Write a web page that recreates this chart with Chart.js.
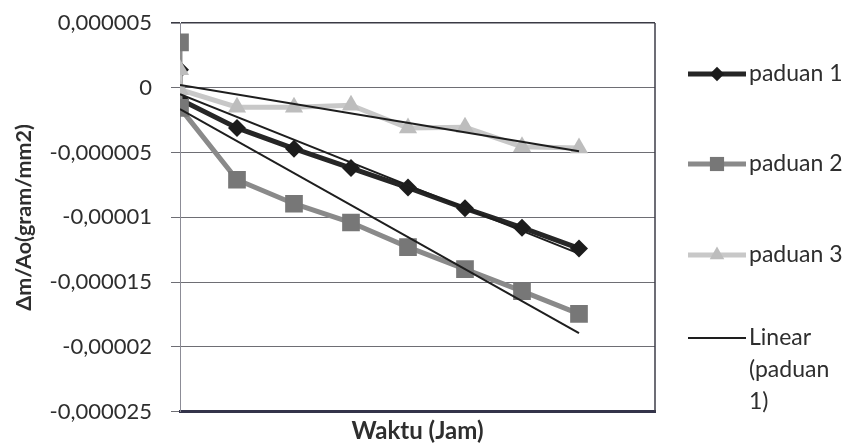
<!DOCTYPE html>
<html>
<head>
<meta charset="utf-8">
<script src="https://cdn.jsdelivr.net/npm/chart.js@4.4.1/dist/chart.umd.min.js"></script>
<style>
  html, body { margin: 0; padding: 0; background: #fff; }
  canvas { display: block; }
</style>
</head>
<body>
<canvas id="chart" width="851" height="443"></canvas>
<script>
// Sampling times (hours); the first two readings share t = 0
const hours = [0, 0, 24, 48, 72, 96, 120, 144, 168];

// Mass change per initial area (gram/mm2)
const paduan1 = [1.4e-6, -0.9e-6, -3.1e-6, -4.7e-6, -6.2e-6, -7.7e-6, -9.3e-6, -10.8e-6, -12.4e-6];
const paduan2 = [3.5e-6, -1.55e-6, -7.1e-6, -8.95e-6, -10.4e-6, -12.3e-6, -14.0e-6, -15.7e-6, -17.45e-6];
const paduan3 = [1.4e-6, -0.15e-6, -1.5e-6, -1.5e-6, -1.35e-6, -3.1e-6, -3.05e-6, -4.55e-6, -4.65e-6];

const seriesNames = ['paduan 1', 'paduan 2', 'paduan 3'];
const trendNames = ['Linear (paduan 1)', 'Linear (paduan 2)', 'Linear (paduan 3)'];

const yTickValues = [-2.5e-5, -2e-5, -1.5e-5, -1e-5, -5e-6, 0, 5e-6];
const yTickLabels = ['-0,000025', '-0,00002', '-0,000015', '-0,00001', '-0,000005', '0', '0,000005'];

const xTitle = 'Waktu (Jam)';
const yTitle = 'Δm/Ao(gram/mm2)';

const FONT = 'Lato';
const TEXT = '#2e2e2e';

function toPoints(ys) {
  return hours.map((x, i) => ({ x: x, y: ys[i] }));
}

// Least-squares straight line over the series, spanning its time range
function linearTrend(ys) {
  const n = ys.length;
  let sx = 0, sy = 0, sxx = 0, sxy = 0;
  for (let i = 0; i < n; i++) {
    sx += hours[i]; sy += ys[i];
    sxx += hours[i] * hours[i]; sxy += hours[i] * ys[i];
  }
  const slope = (n * sxy - sx * sy) / (n * sxx - sx * sx);
  const icpt = (sy - slope * sx) / n;
  const x0 = Math.min.apply(null, hours), x1 = Math.max.apply(null, hours);
  return [{ x: x0, y: icpt + slope * x0 }, { x: x1, y: icpt + slope * x1 }];
}

const seriesStyle = [
  { line: '#262626', fill: '#1c1c1c', pointStyle: 'rectRot', radius: 9 },
  { line: '#8a8a8a', fill: '#777777', pointStyle: 'rect', radius: 12.5 },
  { line: '#c8c8c8', fill: '#bdbdbd', pointStyle: 'triangle', radius: 10.5 }
];
const trendColor = '#1e1e1e';

const seriesData = [paduan1, paduan2, paduan3];

const datasets = [];
seriesData.forEach((ys, i) => {
  const s = seriesStyle[i];
  datasets.push({
    label: seriesNames[i],
    data: toPoints(ys),
    showLine: true,
    borderColor: s.line,
    borderWidth: 5,
    backgroundColor: s.fill,
    pointStyle: s.pointStyle,
    pointRadius: s.radius,
    pointHoverRadius: s.radius,
    pointBackgroundColor: s.fill,
    pointBorderColor: s.fill,
    pointBorderWidth: 0,
    order: 3 - i
  });
});
seriesData.forEach((ys, i) => {
  datasets.push({
    label: trendNames[i],
    data: linearTrend(ys),
    showLine: true,
    borderColor: trendColor,
    borderWidth: 2,
    pointRadius: 0,
    pointHoverRadius: 0,
    order: 0
  });
});

// Legend at the right: line sample with marker, then the label (wrapped when too wide)
const sideLegend = {
  id: 'sideLegend',
  afterDraw(chart) {
    const ctx = chart.ctx;
    const entries = [
      { ds: 0, y: [74] },
      { ds: 1, y: [164] },
      { ds: 2, y: [255] },
      { ds: 3, y: [338, 370, 402] }
    ];
    const x1 = 688, x2 = 746, tx = 749, maxW = 100;
    ctx.save();
    ctx.font = '23px ' + FONT;
    ctx.fillStyle = TEXT;
    ctx.textBaseline = 'middle';
    ctx.textAlign = 'left';
    entries.forEach(e => {
      const ds = chart.data.datasets[e.ds];
      const y = e.y[0];
      ctx.save();
      ctx.strokeStyle = ds.borderColor;
      ctx.lineWidth = ds.borderWidth;
      ctx.beginPath();
      ctx.moveTo(x1, y);
      ctx.lineTo(x2, y);
      ctx.stroke();
      if (ds.pointRadius > 0) {
        ctx.fillStyle = ds.pointBackgroundColor;
        ctx.strokeStyle = ds.pointBorderColor;
        Chart.helpers.drawPoint(ctx, {
          pointStyle: ds.pointStyle,
          radius: ds.pointRadius * 0.8,
          rotation: 0,
          borderWidth: 0
        }, (x1 + x2) / 2, y);
      }
      ctx.restore();
      // word wrap
      const words = ds.label.split(' ');
      const lines = [];
      let cur = '';
      words.forEach(w => {
        const t = cur ? cur + ' ' + w : w;
        if (cur && ctx.measureText(t).width > maxW) { lines.push(cur); cur = w; }
        else cur = t;
      });
      if (cur) lines.push(cur);
      lines.forEach((ln, k) => {
        const ly = e.y[k] !== undefined ? e.y[k] : e.y[0] + k * 32;
        ctx.fillText(ln, tx, ly);
      });
    });
    ctx.restore();
  }
};

// Right-hand frame of the plot area
const plotFrame = {
  id: 'plotFrame',
  afterDatasetsDraw(chart) {
    const a = chart.chartArea;
    const ctx = chart.ctx;
    ctx.save();
    ctx.strokeStyle = '#3c3c48';
    ctx.lineWidth = 1.5;
    ctx.beginPath();
    ctx.moveTo(a.right, a.top);
    ctx.lineTo(a.right, a.bottom);
    ctx.stroke();
    ctx.restore();
  }
};

function draw() {
  new Chart(document.getElementById('chart'), {
    type: 'scatter',
    data: { datasets: datasets },
    plugins: [sideLegend, plotFrame],
    options: {
      responsive: false,
      animation: false,
      events: [],
      layout: { padding: { left: 0, right: 196, top: 23, bottom: 0 } },
      plugins: { legend: { display: false }, tooltip: { enabled: false } },
      scales: {
        x: {
          type: 'linear',
          min: 0,
          max: 200,
          grid: { display: false, drawTicks: false },
          ticks: { display: false },
          border: { display: true, color: '#34344a', width: 3 },
          title: {
            display: true,
            text: xTitle,
            color: TEXT,
            font: { family: FONT, size: 24, weight: 'bold', lineHeight: 1 },
            padding: { top: 7.3, bottom: 0 }
          }
        },
        y: {
          type: 'linear',
          min: -2.5e-5,
          max: 5e-6,
          afterBuildTicks(scale) {
            scale.ticks = yTickValues.map(v => ({ value: v }));
          },
          afterFit(scale) {
            scale.width = 180;
            scale.paddingTop = 0;
            scale.paddingBottom = 0;
          },
          grid: {
            color: ctx => (ctx.tick && ctx.tick.value === 5e-6) ? '#3a3a44' : '#6e6e74',
            lineWidth: ctx => (ctx.tick && ctx.tick.value === 5e-6) ? 1.6 : 1,
            drawTicks: true,
            tickLength: 9
          },
          border: { display: true, color: '#8c8c96', width: 1 },
          ticks: {
            color: TEXT,
            font: { family: FONT, size: 22 },
            padding: 19,
            callback: (v, i) => yTickLabels[i]
          },
          title: {
            display: true,
            text: yTitle,
            color: TEXT,
            font: { family: FONT, size: 21.5, weight: 'bold', lineHeight: 1 },
            padding: { top: 13.75, bottom: 0 }
          }
        }
      }
    }
  });
}

if (document.fonts && document.fonts.load) {
  Promise.all([
    document.fonts.load('23px ' + FONT),
    document.fonts.load('bold 23px ' + FONT)
  ]).then(draw, draw);
} else {
  draw();
}
</script>
</body>
</html>
